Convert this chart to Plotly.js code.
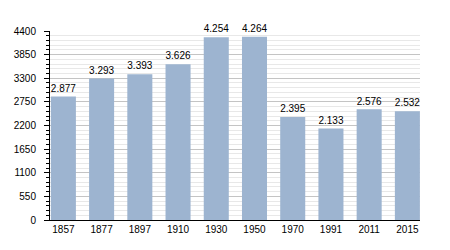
<!DOCTYPE html>
<html><head><meta charset="utf-8">
<script src="https://cdn.plot.ly/plotly-3.0.1.min.js"></script>
<style>body{margin:0;background:#fff}#c{width:450px;height:250px}</style>
</head><body><div id="c"></div>
<script>
const years = ["1857","1877","1897","1910","1930","1950","1970","1991","2011","2015"];
const population = [2877,3293,3393,3626,4254,4264,2395,2133,2576,2532];
const labels = ["2.877","3.293","3.393","3.626","4.254","4.264","2.395","2.133","2.576","2.532"];
const yTicks = [0,550,1100,1650,2200,2750,3300,3850,4400];

Plotly.newPlot('c', [{
  type: 'bar', x: years, y: population, text: labels,
  textposition: 'outside', cliponaxis: false,
  textfont: {family: 'Liberation Sans, Arial, sans-serif', size: 11, color: '#000'},
  marker: {color: '#9db4d0'}, width: 0.655, hoverinfo: 'none'
}], {
  width: 450, height: 250,
  margin: {l: 50, r: 30, t: 31, b: 30},
  paper_bgcolor: '#fff', plot_bgcolor: '#fff',
  showlegend: false,
  font: {family: 'Liberation Sans, Arial, sans-serif', size: 10, color: '#000'},
  xaxis: {type: 'category', range: [-0.35, 9.33], showgrid: false, showline: true,
    linecolor: '#000', linewidth: 1, ticks: '', tickfont: {size: 10}, fixedrange: true},
  yaxis: {range: [0, 4400], tickvals: yTicks, ticktext: yTicks.map(String),
    showline: true, linecolor: '#000', linewidth: 1, ticks: 'outside', ticklen: 5,
    tickcolor: '#000', showgrid: true, gridcolor: '#c4c4c4', zeroline: false,
    tickfont: {size: 10}, ticklabelstandoff: 6,
    minor: {dtick: 110, tick0: 0, ticks: 'outside', ticklen: 3, tickcolor: '#000',
      showgrid: true, gridcolor: '#e8e8e8'}, fixedrange: true}
}, {displayModeBar: false, staticPlot: true});
</script></body></html>
